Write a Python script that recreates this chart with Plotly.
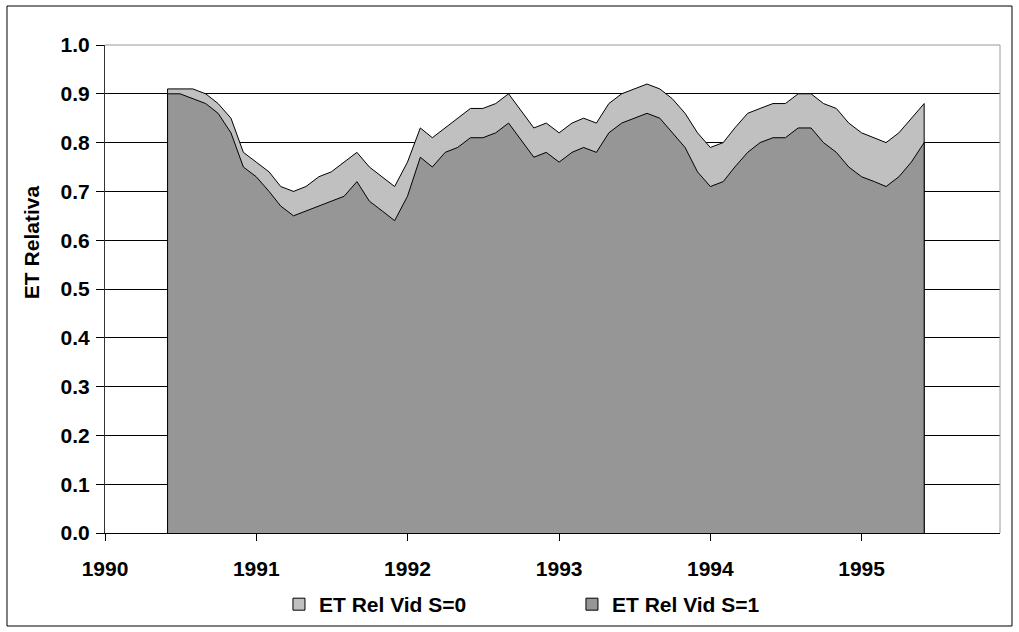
import pandas as pd
import plotly.graph_objects as go

# Monthly dates, June 1990 – June 1995
months = pd.date_range("1990-06-01", "1995-06-01", freq="MS")

et_rel_s0 = [0.91, 0.91, 0.91, 0.90, 0.88, 0.85, 0.78, 0.76, 0.74, 0.71,
             0.70, 0.71, 0.73, 0.74, 0.76, 0.78, 0.75, 0.73, 0.71, 0.76,
             0.83, 0.81, 0.83, 0.85, 0.87, 0.87, 0.88, 0.90, 0.865, 0.83,
             0.84, 0.82, 0.84, 0.85, 0.84, 0.88, 0.90, 0.91, 0.92, 0.91,
             0.89, 0.86, 0.82, 0.79, 0.80, 0.83, 0.86, 0.87, 0.88, 0.88,
             0.90, 0.90, 0.88, 0.87, 0.84, 0.82, 0.81, 0.80, 0.82, 0.85,
             0.88]

et_rel_s1 = [0.90, 0.90, 0.89, 0.88, 0.86, 0.82, 0.75, 0.73, 0.70, 0.67,
             0.65, 0.66, 0.67, 0.68, 0.69, 0.72, 0.68, 0.66, 0.64, 0.69,
             0.77, 0.75, 0.78, 0.79, 0.81, 0.81, 0.82, 0.84, 0.805, 0.77,
             0.78, 0.76, 0.78, 0.79, 0.78, 0.82, 0.84, 0.85, 0.86, 0.85,
             0.82, 0.79, 0.74, 0.71, 0.72, 0.75, 0.78, 0.80, 0.81, 0.81,
             0.83, 0.83, 0.80, 0.78, 0.75, 0.73, 0.72, 0.71, 0.73, 0.76,
             0.80]

series_names = ["ET Rel Vid S=0", "ET Rel Vid S=1"]
series_colors = ["#C0C0C0", "#969696"]

year_ticks = ["1990-01-01", "1991-01-01", "1992-01-01", "1993-01-01", "1994-01-01", "1995-01-01"]
year_labels = ["1990", "1991", "1992", "1993", "1994", "1995"]
y_ticks = [0.0, 0.1, 0.2, 0.3, 0.4, 0.5, 0.6, 0.7, 0.8, 0.9, 1.0]
y_title = "ET Relativa"

FONT = "Liberation Sans, Arial, sans-serif"

fig = go.Figure()
for name, vals, col in zip(series_names, [et_rel_s0, et_rel_s1], series_colors):
    xs = [months[0]] + list(months) + [months[-1]]
    ys = [0] + list(vals) + [0]
    fig.add_trace(go.Scatter(
        x=xs, y=ys, name=name, mode="lines", fill="toself",
        fillcolor=col, line=dict(color="black", width=1),
        hoverinfo="skip", showlegend=False,
    ))

# legend entries (square swatches)
for name, col in zip(series_names, series_colors):
    fig.add_trace(go.Scatter(
        x=[None], y=[None], mode="markers", name="<b>" + name + "</b>",
        marker=dict(symbol="square", size=12, color=col,
                    line=dict(color="black", width=1)),
        showlegend=True, hoverinfo="skip",
    ))

fig.update_layout(
    width=1019, height=632,
    margin=dict(l=105, r=19, t=45, b=99, autoexpand=False),
    paper_bgcolor="white", plot_bgcolor="white",
    font=dict(family=FONT, size=21, color="black"),
    showlegend=True,
    legend=dict(
        orientation="h", xref="container", yref="container",
        x=0.5613, xanchor="center", y=0.0759, yanchor="top",
        font=dict(family=FONT, size=21, color="black"),
        entrywidth=248, bgcolor="rgba(0,0,0,0)",
    ),
    xaxis=dict(
        type="date", range=["1990-01-01", "1995-12-01"],
        tickvals=year_ticks, ticktext=year_labels,
        ticks="outside", ticklen=7, tickcolor="black", tickwidth=1,
        ticklabelstandoff=10, automargin=False,
        showline=True, linecolor="black", linewidth=1,
        showgrid=False, zeroline=False,
        tickfont=dict(family=FONT, size=21, color="black", weight="bold"),
    ),
    yaxis=dict(
        range=[0, 1], tickvals=y_ticks, tickformat=".1f",
        ticks="outside", ticklen=8, tickcolor="black", tickwidth=1,
        ticklabelstandoff=2, automargin=False,
        showline=True, linecolor="#333333", linewidth=1,
        showgrid=True, gridcolor="black", gridwidth=1,
        zeroline=False,
        tickfont=dict(family=FONT, size=21, color="black", weight="bold"),
    ),
    annotations=[
        dict(text="<b>" + y_title + "</b>", xref="paper", yref="paper",
             x=-0.0827, y=0.596, xanchor="center", yanchor="middle",
             textangle=-90, showarrow=False,
             font=dict(family=FONT, size=21, color="black")),
    ],
    shapes=[
        dict(type="line", xref="paper", yref="paper", x0=0, x1=1, y0=1, y1=1,
             line=dict(color="#9a9a9a", width=1), layer="above"),
        dict(type="line", xref="paper", yref="paper", x0=1, x1=1, y0=0, y1=1,
             line=dict(color="#9a9a9a", width=1), layer="above"),
        dict(type="rect", xref="paper", yref="paper",
             x0=-0.1095, x1=1.0134, y0=-0.1906, y1=1.0799,
             line=dict(color="black", width=1), fillcolor="rgba(0,0,0,0)",
             layer="above"),
    ],
)

fig.write_html("out.html")
